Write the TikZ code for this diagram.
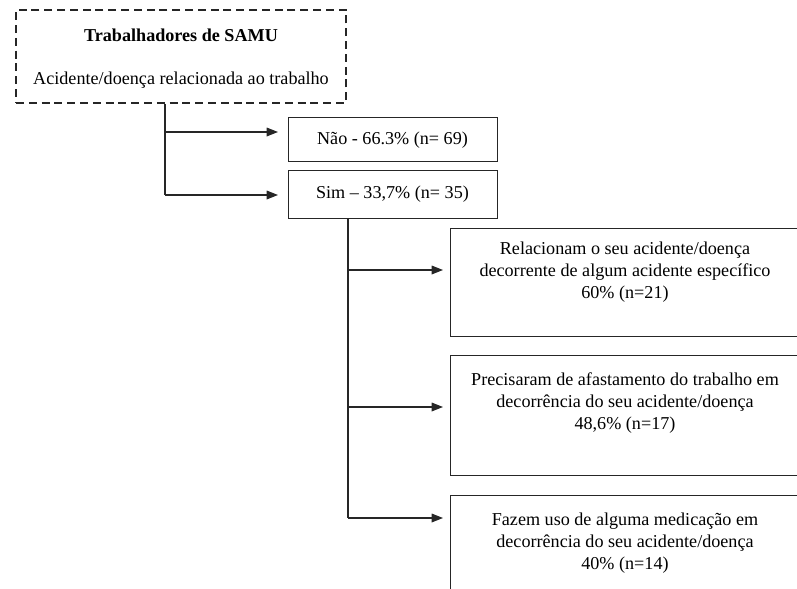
\documentclass[tikz,border=0pt]{standalone}
\usepackage{fontspec}
\setmainfont{Liberation Serif}
\usetikzlibrary{arrows.meta}
\begin{document}
\begin{tikzpicture}[x=0.75pt,y=-0.75pt,
  font=\fontsize{13.6}{16.5}\selectfont,
  box/.style={draw=black!85, line width=0.75pt, rectangle, inner sep=0pt},
  dbox/.style={draw=black!85, line width=1.5pt, dash pattern=on 6pt off 3.6pt, rectangle, inner sep=0pt},
  txt/.style={align=center, inner sep=0pt},
  arr/.style={-{Triangle[length=8.5pt,width=6.5pt]}, line width=0.9pt, draw=black!85},
  conn/.style={line width=0.9pt, draw=black!85}]
\useasboundingbox (0,0) rectangle (797,589);
\clip (0,0) rectangle (797,589);

% top dashed box
\node[dbox, minimum width=247.5pt, minimum height=69.75pt] (top) at (181,56.5) {};
\node[txt, font=\fontsize{13.6}{16.5}\selectfont\bfseries] (t1) at (181,35) {Trabalhadores de SAMU};
\node[txt] (t2) at (181,80) {Acidente/doença relacionada ao trabalho};

% first level
\node[box, minimum width=156.75pt, minimum height=33pt] (nao) at (392.5,139) {};
\node[txt] (naot) at (392.5,140) {Não - 66.3\% (n= 69)};
\node[box, minimum width=156.75pt, minimum height=36pt] (sim) at (392.5,194) {};
\node[txt] (simt) at (392.5,194) {Sim – 33,7\% (n= 35)};

% second level
\node[box, minimum width=262.5pt, minimum height=81pt] (b1) at (625,282) {};
\node[txt] (b1t) at (625,272) {Relacionam o seu acidente/doença\\decorrente de algum acidente específico\\60\% (n=21)};
\node[box, minimum width=262.5pt, minimum height=90pt] (b2) at (625,415) {};
\node[txt] (b2t) at (625,403.5) {Precisaram de afastamento do trabalho em\\decorrência do seu acidente/doença\\48,6\% (n=17)};
\node[box, minimum width=262.5pt, minimum height=82.5pt] (b3) at (625,550) {};
\node[txt] (b3t) at (625,543.5) {Fazem uso de alguma medicação em\\decorrência do seu acidente/doença\\40\% (n=14)};

% spine 1
\coordinate (s1) at (165,132);
\coordinate (s1e) at (165,195);
\coordinate (a1) at (278,132);
\coordinate (a2) at (278,195);
\draw[conn] (s1 |- top.south) -- (s1e);
\draw[arr] (s1) -- (a1);
\draw[arr] (s1e) -- (a2);

% spine 2
\coordinate (s2a) at (348,270);
\coordinate (s2b) at (348,407);
\coordinate (s2c) at (348,518);
\coordinate (c1) at (443,270);
\coordinate (c2) at (443,407);
\coordinate (c3) at (443,518);
\draw[conn] (s2a |- sim.south) -- (s2c);
\draw[arr] (s2a) -- (c1);
\draw[arr] (s2b) -- (c2);
\draw[arr] (s2c) -- (c3);
\end{tikzpicture}
\end{document}
